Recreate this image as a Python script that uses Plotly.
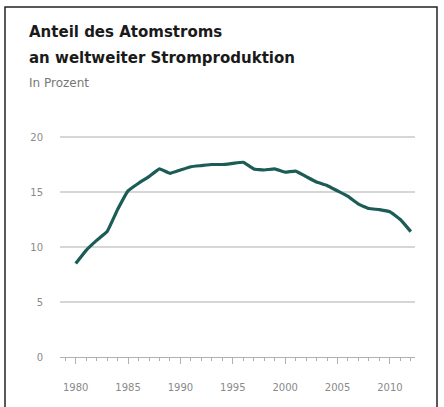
import plotly.graph_objects as go

years = list(range(1980, 2013))
share = [8.5, 9.7, 10.6, 11.4, 13.4, 15.1, 15.8, 16.4, 17.1, 16.7,
         17.0, 17.3, 17.4, 17.5, 17.5, 17.6, 17.7, 17.1, 17.0, 17.1,
         16.8, 16.9, 16.4, 15.9, 15.6, 15.1, 14.6, 13.9, 13.5, 13.4,
         13.2, 12.5, 11.4]
x_ticks = [1980, 1985, 1990, 1995, 2000, 2005, 2010]
y_ticks = [0, 5, 10, 15, 20]
title_lines = ["Anteil des Atomstroms", "an weltweiter Stromproduktion"]
subtitle = "In Prozent"

W, H = 444, 407
L, R, T, B = 60, 29, 126, 50
pw, ph = W - L - R, H - T - B


def px(x):
    return (x - L) / pw


def py(y):
    return (H - B - y) / ph


fig = go.Figure()
fig.add_trace(go.Scatter(
    x=years, y=share, mode="lines",
    line=dict(color="#1c5c57", width=3.2, shape="spline", smoothing=0.3),
    hoverinfo="skip", showlegend=False,
))

font = "DejaVu Sans, sans-serif"
fig.update_layout(
    width=W, height=H,
    margin=dict(l=L, r=R, t=T, b=B),
    paper_bgcolor="white", plot_bgcolor="white",
    font=dict(family=font, color="#888888", size=10),
    xaxis=dict(
        range=[1978.5, 2012.4], tickvals=x_ticks, showgrid=False,
        showline=True, linecolor="#b0b0b0", linewidth=1.2,
        ticks="outside", ticklen=6, tickcolor="#b0b0b0", tickwidth=1,
        minor=dict(dtick=1, ticks="outside", ticklen=3, tickcolor="#b0b0b0"),
        tickfont=dict(size=10, color="#8a8a8a"), zeroline=False,
        ticklabelstandoff=15, fixedrange=True,
    ),
    yaxis=dict(
        range=[0, 21], tickvals=y_ticks, showgrid=True,
        gridcolor="#d6d6d6", gridwidth=1.5, zeroline=False,
        showline=False, ticks="", ticklabelstandoff=16,
        tickfont=dict(size=10, color="#8a8a8a"), fixedrange=True,
    ),
    shapes=[dict(type="rect", xref="paper", yref="paper",
                 x0=px(5), x1=px(437), y0=py(412), y1=py(7),
                 line=dict(color="#222222", width=1.5), layer="below")],
)

for i, t in enumerate(title_lines):
    fig.add_annotation(text="<b>" + t + "</b>", xref="paper", yref="paper",
                       x=px(27), y=py(32 + 26 * i), xanchor="left", yanchor="middle",
                       showarrow=False, font=dict(family=font, size=15, color="#1a1a1a"))
fig.add_annotation(text=subtitle, xref="paper", yref="paper",
                   x=px(27), y=py(83), xanchor="left", yanchor="middle",
                   showarrow=False, font=dict(family=font, size=12, color="#777777"))

fig.write_html("out.html")
